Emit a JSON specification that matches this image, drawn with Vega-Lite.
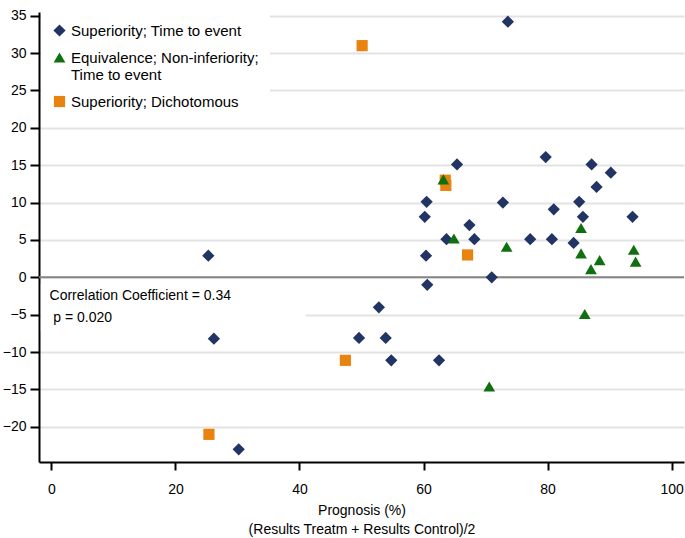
{
  "$schema": "https://vega.github.io/schema/vega-lite/v6.json",
  "autosize": "none",
  "width": 645,
  "height": 450,
  "padding": {"left": 39, "top": 12, "right": 1, "bottom": 76},
  "config": {"view": {"stroke": null}, "font": "Liberation Sans"},
  "layer": [
    {
      "data": {"values": [{"note": "box"}]},
      "mark": {"type": "rect", "color": "white"},
      "encoding": {
        "x": {"datum": -1.7, "type": "quantitative", "scale": {"domain": [-2, 102], "nice": false, "zero": false}},
        "x2": {"datum": 41},
        "y": {"datum": -0.9, "type": "quantitative", "scale": {"domain": [-24.7, 35.5], "nice": false, "zero": false}},
        "y2": {"datum": -7.2}
      }
    },
    {
      "data": {"values": [{"ref": 0}]},
      "mark": {"type": "rule", "color": "#858585", "strokeWidth": 2},
      "encoding": {"y": {"field": "ref", "type": "quantitative"}}
    },
    {
      "data": {
        "values": [
          {"prognosis": 73.6, "difference": 34.2, "design": "Superiority; Time to event"},
          {"prognosis": 25.3, "difference": 2.9, "design": "Superiority; Time to event"},
          {"prognosis": 26.2, "difference": -8.2, "design": "Superiority; Time to event"},
          {"prognosis": 30.2, "difference": -23.0, "design": "Superiority; Time to event"},
          {"prognosis": 49.6, "difference": -8.1, "design": "Superiority; Time to event"},
          {"prognosis": 52.8, "difference": -4.0, "design": "Superiority; Time to event"},
          {"prognosis": 53.9, "difference": -8.1, "design": "Superiority; Time to event"},
          {"prognosis": 54.8, "difference": -11.1, "design": "Superiority; Time to event"},
          {"prognosis": 62.5, "difference": -11.1, "design": "Superiority; Time to event"},
          {"prognosis": 60.6, "difference": -1.0, "design": "Superiority; Time to event"},
          {"prognosis": 60.4, "difference": 2.9, "design": "Superiority; Time to event"},
          {"prognosis": 60.2, "difference": 8.1, "design": "Superiority; Time to event"},
          {"prognosis": 60.5, "difference": 10.1, "design": "Superiority; Time to event"},
          {"prognosis": 63.7, "difference": 5.1, "design": "Superiority; Time to event"},
          {"prognosis": 65.4, "difference": 15.1, "design": "Superiority; Time to event"},
          {"prognosis": 67.4, "difference": 7.0, "design": "Superiority; Time to event"},
          {"prognosis": 68.2, "difference": 5.1, "design": "Superiority; Time to event"},
          {"prognosis": 71.0, "difference": 0.0, "design": "Superiority; Time to event"},
          {"prognosis": 72.8, "difference": 10.0, "design": "Superiority; Time to event"},
          {"prognosis": 77.2, "difference": 5.1, "design": "Superiority; Time to event"},
          {"prognosis": 79.7, "difference": 16.1, "design": "Superiority; Time to event"},
          {"prognosis": 80.7, "difference": 5.1, "design": "Superiority; Time to event"},
          {"prognosis": 81.0, "difference": 9.1, "design": "Superiority; Time to event"},
          {"prognosis": 84.2, "difference": 4.6, "design": "Superiority; Time to event"},
          {"prognosis": 85.1, "difference": 10.1, "design": "Superiority; Time to event"},
          {"prognosis": 85.7, "difference": 8.1, "design": "Superiority; Time to event"},
          {"prognosis": 87.1, "difference": 15.1, "design": "Superiority; Time to event"},
          {"prognosis": 87.9, "difference": 12.1, "design": "Superiority; Time to event"},
          {"prognosis": 90.2, "difference": 14.0, "design": "Superiority; Time to event"},
          {"prognosis": 93.7, "difference": 8.1, "design": "Superiority; Time to event"},
          {"prognosis": 50.1, "difference": 31.0, "design": "Superiority; Dichotomous"},
          {"prognosis": 63.5, "difference": 13.0, "design": "Superiority; Dichotomous"},
          {"prognosis": 63.6, "difference": 12.3, "design": "Superiority; Dichotomous"},
          {"prognosis": 67.1, "difference": 3.0, "design": "Superiority; Dichotomous"},
          {"prognosis": 47.4, "difference": -11.1, "design": "Superiority; Dichotomous"},
          {"prognosis": 25.4, "difference": -21.0, "design": "Superiority; Dichotomous"},
          {"prognosis": 63.2, "difference": 13.1, "design": "Equivalence; Non-inferiority; Time to event"},
          {"prognosis": 64.9, "difference": 5.2, "design": "Equivalence; Non-inferiority; Time to event"},
          {"prognosis": 73.4, "difference": 4.1, "design": "Equivalence; Non-inferiority; Time to event"},
          {"prognosis": 85.4, "difference": 6.6, "design": "Equivalence; Non-inferiority; Time to event"},
          {"prognosis": 85.4, "difference": 3.2, "design": "Equivalence; Non-inferiority; Time to event"},
          {"prognosis": 87.0, "difference": 1.1, "design": "Equivalence; Non-inferiority; Time to event"},
          {"prognosis": 88.4, "difference": 2.3, "design": "Equivalence; Non-inferiority; Time to event"},
          {"prognosis": 93.9, "difference": 3.7, "design": "Equivalence; Non-inferiority; Time to event"},
          {"prognosis": 94.2, "difference": 2.1, "design": "Equivalence; Non-inferiority; Time to event"},
          {"prognosis": 86.0, "difference": -4.9, "design": "Equivalence; Non-inferiority; Time to event"},
          {"prognosis": 70.6, "difference": -14.6, "design": "Equivalence; Non-inferiority; Time to event"}
        ]
      },
      "mark": {"type": "point", "filled": true, "opacity": 1, "strokeWidth": 0},
      "encoding": {
        "x": {
          "field": "prognosis", "type": "quantitative",
          "axis": {
            "values": [0, 20, 40, 60, 80, 100], "format": "d", "grid": false,
            "title": ["Prognosis (%)", "(Results Treatm + Results Control)/2"],
            "titleFont": "Liberation Sans", "titleFontWeight": "normal", "titleFontSize": 14, "titleColor": "black",
            "titleLineHeight": 19, "titlePadding": 7,
            "domainColor": "black", "domainWidth": 2, "tickColor": "black", "tickWidth": 2, "tickSize": 8,
            "labelFontSize": 14, "labelColor": "black", "labelPadding": 12, "labelFont": "Liberation Sans"
          }
        },
        "y": {
          "field": "difference", "type": "quantitative",
          "axis": {
            "values": [-20, -15, -10, -5, 0, 5, 10, 15, 20, 25, 30, 35], "format": "d", "title": null,
            "grid": true, "gridColor": "#E3E3E3", "gridWidth": 2,
            "domainColor": "black", "domainWidth": 2, "tickColor": "black", "tickWidth": 2, "tickSize": 9,
            "labelFontSize": 14, "labelColor": "black", "labelPadding": 4, "labelFont": "Liberation Sans"
          }
        },
        "size": {
          "field": "design", "type": "nominal",
          "scale": {
            "domain": ["Superiority; Time to event", "Equivalence; Non-inferiority; Time to event", "Superiority; Dichotomous"],
            "range": [150, 125, 120]
          },
          "legend": null
        },
        "shape": {
          "field": "design", "type": "nominal",
          "scale": {
            "domain": ["Superiority; Time to event", "Equivalence; Non-inferiority; Time to event", "Superiority; Dichotomous"],
            "range": ["diamond", "triangle-up", "square"]
          },
          "legend": {
            "title": null, "orient": "none", "legendX": 2, "legendY": 0, "fillColor": "white", "padding": 11,
            "labelFont": "Liberation Sans", "labelFontSize": 15, "labelColor": "black", "labelLimit": 400,
            "symbolSize": 130, "rowPadding": 11, "labelOffset": 4, "symbolStrokeWidth": 0,
            "labelExpr": "datum.label == 'Equivalence; Non-inferiority; Time to event' ? ['Equivalence; Non-inferiority;', 'Time to event'] : datum.label"
          }
        },
        "color": {
          "field": "design", "type": "nominal",
          "scale": {
            "domain": ["Superiority; Time to event", "Equivalence; Non-inferiority; Time to event", "Superiority; Dichotomous"],
            "range": ["#213463", "#107010", "#E9830F"]
          },
          "legend": {
            "title": null, "orient": "none", "legendX": 2, "legendY": 0, "fillColor": "white", "padding": 11,
            "labelFont": "Liberation Sans", "labelFontSize": 15, "labelColor": "black", "labelLimit": 400,
            "symbolSize": 130, "rowPadding": 11, "labelOffset": 4, "symbolStrokeWidth": 0,
            "labelExpr": "datum.label == 'Equivalence; Non-inferiority; Time to event' ? ['Equivalence; Non-inferiority;', 'Time to event'] : datum.label"
          }
        }
      }
    },
    {
      "data": {"values": [{"label": "Correlation Coefficient = 0.34"}]},
      "mark": {"type": "text", "align": "left", "baseline": "middle", "fontSize": 14, "font": "Liberation Sans", "color": "black"},
      "encoding": {"text": {"field": "label"}, "x": {"datum": -0.3, "type": "quantitative"}, "y": {"datum": -2.5, "type": "quantitative"}}
    },
    {
      "data": {"values": [{"label": "p = 0.020"}]},
      "mark": {"type": "text", "align": "left", "baseline": "middle", "fontSize": 14, "font": "Liberation Sans", "color": "black"},
      "encoding": {"text": {"field": "label"}, "x": {"datum": 0.3, "type": "quantitative"}, "y": {"datum": -5.5, "type": "quantitative"}}
    }
  ]
}
